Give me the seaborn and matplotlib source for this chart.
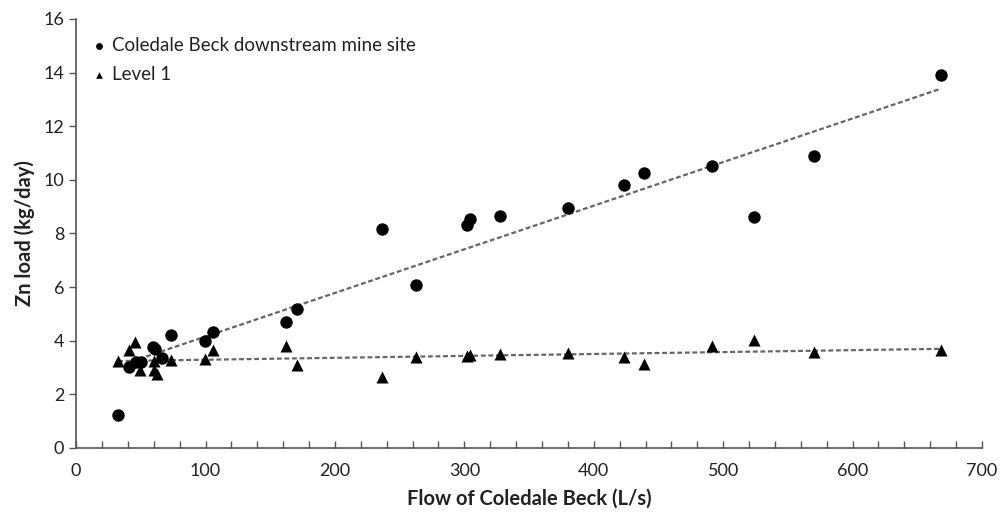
import numpy as np
import pandas as pd
import matplotlib
matplotlib.use("Agg")
import matplotlib.pyplot as plt
from matplotlib.ticker import MultipleLocator
import seaborn as sns

# Coledale Beck downstream mine site (circles)
down_flow = [32, 40.8, 46, 50, 59.5, 61.3, 66.7, 73.6, 99.8, 106,
             162, 171, 236, 262.5, 302, 304, 327.5, 380, 423, 439,
             491.5, 524, 570, 668]
down_zn = [1.23, 3.01, 3.22, 3.22, 3.78, 3.68, 3.34, 4.22, 4.0, 4.34,
           4.71, 5.17, 8.18, 6.06, 8.32, 8.54, 8.66, 8.94, 9.79, 10.27,
           10.52, 8.63, 10.87, 13.89]

# Level 1 (triangles)
lev_flow = [32.5, 40.8, 45.4, 49.7, 60.2, 60.2, 62.6, 73.6, 99.8, 106,
            162, 171, 236, 262.5, 302, 304, 327.5, 380, 423, 439,
            491.5, 524, 570, 668]
lev_zn = [3.25, 3.66, 3.97, 2.91, 3.25, 2.89, 2.76, 3.28, 3.32, 3.66,
          3.81, 3.10, 2.64, 3.41, 3.43, 3.45, 3.49, 3.55, 3.41, 3.13,
          3.82, 4.03, 3.59, 3.66]

series_names = ["Coledale Beck downstream mine site", "Level 1"]

df_down = pd.DataFrame({"flow": down_flow, "zn": down_zn})
df_lev = pd.DataFrame({"flow": lev_flow, "zn": lev_zn})

sns.set_style("white")
plt.rcParams['font.family'] = ['Lato', 'DejaVu Sans']

fig = plt.figure(figsize=(10.02, 5.17), dpi=100)
ax = fig.add_axes([0.076, 0.1335, 0.904, 0.83])

line_kws = dict(color="#666666", linestyle=(0, (2.2, 1.2)), linewidth=1.6)
sns.regplot(data=df_down, x="flow", y="zn", ax=ax, scatter=False, ci=None,
            truncate=True, line_kws=line_kws)
sns.regplot(data=df_lev, x="flow", y="zn", ax=ax, scatter=False, ci=None,
            truncate=True, line_kws=line_kws)

sns.scatterplot(data=df_down, x="flow", y="zn", ax=ax, color="black",
                marker="o", s=80, edgecolor="black", linewidth=0,
                label=series_names[0], zorder=3)
sns.scatterplot(data=df_lev, x="flow", y="zn", ax=ax, color="black",
                marker="^", s=75, edgecolor="black", linewidth=0,
                label=series_names[1], zorder=3)

ax.set_xlim(0, 700)
ax.set_ylim(0, 16)
ax.xaxis.set_major_locator(MultipleLocator(100))
ax.xaxis.set_minor_locator(MultipleLocator(20))
ax.yaxis.set_major_locator(MultipleLocator(2))

for side in ["top", "right"]:
    ax.spines[side].set_visible(False)
for side in ["left", "bottom"]:
    ax.spines[side].set_color("#555555")
    ax.spines[side].set_linewidth(1.2)

ax.tick_params(axis="x", which="both", direction="in", length=5,
               color="#555555", width=1, labelsize=13, pad=11,
               labelcolor="#222222")
ax.tick_params(axis="x", which="major", bottom=True)
ax.tick_params(axis="x", which="minor", bottom=True)
ax.tick_params(axis="y", which="major", direction="out", length=5,
               color="#555555", width=1, labelsize=13, left=True,
               labelcolor="#222222")

ax.set_xlabel("Flow of Coledale Beck (L/s)", fontsize=14.5, fontweight="bold",
              color="#222222", labelpad=7)
ax.set_ylabel("Zn load (kg/day)", fontsize=14.5, fontweight="bold",
              color="#222222", labelpad=6)

leg = ax.legend(loc="upper left", bbox_to_anchor=(0.0, 0.988), frameon=False,
                fontsize=13.5, markerscale=0.55, handletextpad=0.2,
                handlelength=1.0, labelspacing=0.62, borderaxespad=0.3)
for t in leg.get_texts():
    t.set_color("#222222")

ax.grid(False)
fig.savefig("out.png", dpi=100)
